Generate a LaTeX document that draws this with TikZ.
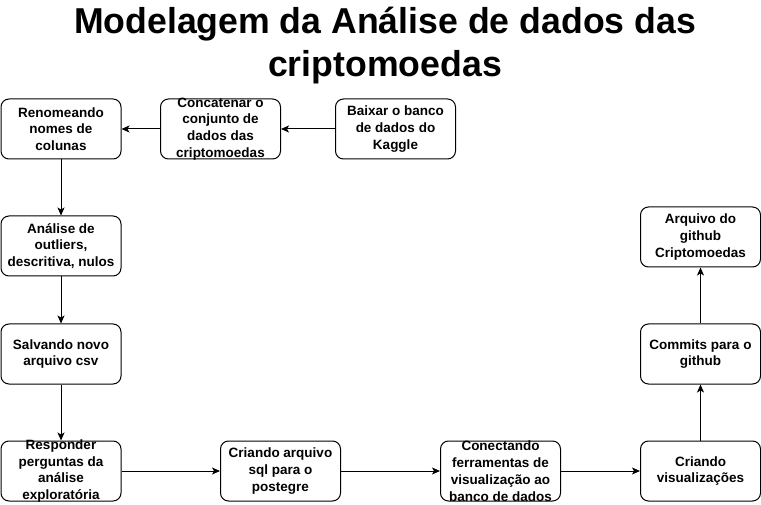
\documentclass[tikz,border=0pt]{standalone}
\usepackage{fontspec}
\setmainfont{Liberation Sans}
\usetikzlibrary{arrows.meta}
\begin{document}
\begin{tikzpicture}[x=1pt,y=-1pt,
  box/.style={draw=black,line width=1pt,rounded corners=8pt,minimum width=120pt,minimum height=60pt,inner sep=0pt},
  lbl/.style={align=center,inner sep=0pt,font=\bfseries\fontsize{13.5}{16.8}\selectfont},
  ttl/.style={font=\bfseries\fontsize{36}{43}\selectfont,inner sep=0pt,anchor=base,xscale=0.99},
  conn/.style={draw=black,line width=1pt,-{Stealth[length=8pt,width=7pt,inset=2pt]}}]
\useasboundingbox[fill=white] (0,0) rectangle (761,505);
\node[ttl] (title1) at (385,34) {Modelagem da Análise de dados das};
\node[ttl] (title2) at (385,77) {criptomoedas};
\node[box] (b1) at (61,129) {};
\node[lbl] (t1) at (b1) {Renomeando\\nomes de\\colunas};
\node[box] (b2) at (220.5,129) {};
\node[lbl] (t2) at (b2) {Concatenar o\\conjunto de\\dados das\\criptomoedas};
\node[box] (b3) at (395.5,129) {};
\node[lbl] (t3) at (b3) {Baixar o banco\\de dados do\\Kaggle};
\node[box] (b4) at (61,246) {};
\node[lbl] (t4) at (b4) {Análise de\\outliers,\\descritiva, nulos};
\node[box] (b5) at (61,354) {};
\node[lbl] (t5) at (b5) {Salvando novo\\arquivo csv};
\node[box] (b6) at (61,471) {};
\node[lbl] (t6) at (b6) {Responder\\perguntas da\\análise\\exploratória};
\node[box] (b7) at (280.5,471) {};
\node[lbl] (t7) at (b7) {Criando arquivo\\sql para o\\postegre};
\node[box] (b8) at (500.5,471) {};
\node[lbl] (t8) at (b8) {Conectando\\ferramentas de\\visualização ao\\banco de dados};
\node[box] (b9) at (700.5,471) {};
\node[lbl] (t9) at (b9) {Criando\\visualizações};
\node[box] (b10) at (700.5,354) {};
\node[lbl] (t10) at (b10) {Commits para o\\github};
\node[box] (b11) at (700.5,237) {};
\node[lbl] (t11) at (b11) {Arquivo do\\github\\Criptomoedas};
\draw[conn] (b3) -- (b2);
\draw[conn] (b2) -- (b1);
\draw[conn] (b1) -- (b4);
\draw[conn] (b4) -- (b5);
\draw[conn] (b5) -- (b6);
\draw[conn] (b6) -- (b7);
\draw[conn] (b7) -- (b8);
\draw[conn] (b8) -- (b9);
\draw[conn] (b9) -- (b10);
\draw[conn] (b10) -- (b11);
\end{tikzpicture}
\end{document}
